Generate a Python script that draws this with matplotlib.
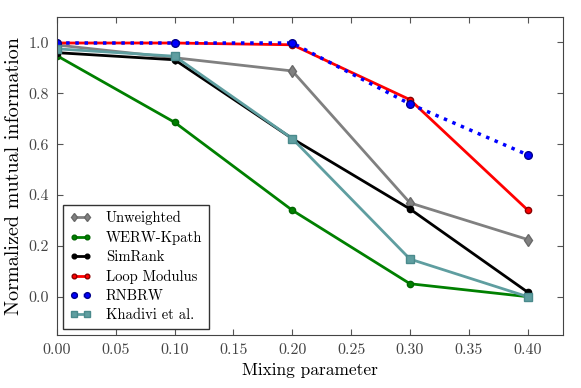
import matplotlib
matplotlib.use("Agg")
import matplotlib.pyplot as plt

plt.rcParams['font.family'] = 'serif'
plt.rcParams['font.serif'] = ['cmr10']
plt.rcParams['mathtext.fontset'] = 'cm'
plt.rcParams['axes.formatter.use_mathtext'] = True

mixing = [0.0, 0.1, 0.2, 0.3, 0.4]
unweighted = [0.99, 0.94, 0.888, 0.369, 0.225]
werw_kpath = [0.948, 0.686, 0.340, 0.051, 0.0]
simrank = [0.96, 0.932, 0.622, 0.345, 0.018]
loop_modulus = [0.998, 0.998, 0.991, 0.775, 0.341]
rnbrw = [0.998, 0.998, 0.998, 0.758, 0.558]
khadivi = [0.975, 0.946, 0.622, 0.148, 0.0]

labels = ["Unweighted", "WERW-Kpath", "SimRank", "Loop Modulus", "RNBRW", "Khadivi et al."]
xticks = [0.0, 0.05, 0.10, 0.15, 0.20, 0.25, 0.30, 0.35, 0.40]
yticks = [0.0, 0.2, 0.4, 0.6, 0.8, 1.0]

fig = plt.figure(figsize=(5.81, 3.88), dpi=100)
ax = fig.add_axes([0.098, 0.137, 0.871, 0.819])

ax.plot(mixing, unweighted, color='gray', lw=2, marker='d', ms=6, mec='dimgray', label=labels[0])
ax.plot(mixing, werw_kpath, color='green', lw=2, marker='o', ms=4.5, mec='darkgreen', label=labels[1])
ax.plot(mixing, simrank, color='black', lw=2, marker='o', ms=4.5, mec='black', label=labels[2])
ax.plot(mixing, loop_modulus, color='red', lw=2, marker='o', ms=4.5, mec='darkred', label=labels[3])
ax.plot(mixing, rnbrw, color='blue', lw=2.5, ls=':', marker='o', ms=5.5, mec='darkblue', label=labels[4])
ax.plot(mixing, khadivi, color='cadetblue', lw=2, marker='s', ms=6, mec='#4a8a8c', label=labels[5])

ax.set_xlim(0, 0.43)
ax.set_ylim(-0.15, 1.1)
ax.set_xticks(xticks)
ax.set_yticks(yticks)
ax.set_xticklabels([f"{t:.2f}" for t in xticks])
ax.set_yticklabels([f"{t:.1f}" for t in yticks])
ax.tick_params(direction='in', top=True, right=True, length=4, labelsize=11.5, labelcolor='#444444', color='#555555', pad=6)
for s in ax.spines.values():
    s.set_color('#444444')

ax.set_xlabel("Mixing parameter", fontsize=12.5, labelpad=4)
ax.set_ylabel("Normalized mutual information", fontsize=14.5, labelpad=4)

leg = ax.legend(loc='lower left', numpoints=2, fontsize=10.5, fancybox=False, framealpha=1,
                edgecolor='#333333', handlelength=1.5, handletextpad=1.0, borderpad=0.45,
                labelspacing=0.38, markerscale=0.75, borderaxespad=0.4)
leg.get_frame().set_linewidth(1.0)

fig.savefig("out.png", dpi=100)
